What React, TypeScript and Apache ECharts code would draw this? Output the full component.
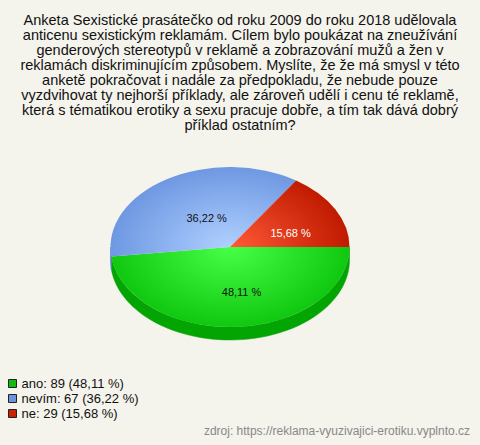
import React, { useEffect, useRef } from "react";
import * as echarts from "echarts";

const titleLines = [
  "Anketa Sexistické prasátečko od roku 2009 do roku 2018 udělovala",
  "anticenu sexistickým reklamám. Cílem bylo poukázat na zneužívání",
  "genderových stereotypů v reklamě a zobrazování mužů a žen v",
  "reklamách diskriminujícím způsobem. Myslíte, že že má smysl v této",
  "anketě pokračovat i nadále za předpokladu, že nebude pouze",
  "vyzdvihovat ty nejhorší příklady, ale zároveň udělí i cenu té reklamě,",
  "která s tématikou erotiky a sexu pracuje dobře, a tím tak dává dobrý",
  "příklad ostatním?",
];
const categories = ["ano", "nevím", "ne"];
const counts = [89, 67, 29];
const sourceText = "zdroj: https://reklama-vyuzivajici-erotiku.vyplnto.cz";

// styles
const legendColors = ["#11bb11", "#6d93dd", "#cc2200"];
const lightColors = ["#46ff46", "#b0d0ff", "#ff5a38"];
const edgeColors = ["#10c810", "#6e98e2", "#c01a00"];
const sideColors = ["#03a503", "#5a7fc4", "#a01800"];
const labelColors = ["#111111", "#111111", "#ffffff"];

const FONT = "'Liberation Sans', Arial, Helvetica, sans-serif";

const total = counts.reduce((a, b) => a + b, 0);
const pct = (v: number) => ((v / total) * 100).toFixed(2).replace(".", ",") + " %";

export default function App() {
  const ref = useRef<HTMLDivElement>(null);
  useEffect(() => {
    document.body.style.margin = "0";
    const chart = echarts.init(ref.current!, undefined, { renderer: "svg" });
    const cx = 230;
    const cy = 247;
    const rx = 119.5;
    const ry = 80;
    const depth = 13;

    const makeRender = (i: number) => (params: any, api: any) => {
      const before = counts.slice(0, i).reduce((a, b) => a + b, 0);
      const v = api.value(0);
      const a0 = (before / total) * Math.PI * 2;
      const a1 = ((before + v) / total) * Math.PI * 2;
      const children: any[] = [];
      // side (front half only)
      const s = Math.max(a0, 0);
      const e = Math.min(a1, Math.PI);
      if (e > s) {
        const pts: number[][] = [];
        const n = 60;
        for (let k = 0; k <= n; k++) {
          const t = s + ((e - s) * k) / n;
          pts.push([cx + rx * Math.cos(t), cy + ry * Math.sin(t)]);
        }
        for (let k = n; k >= 0; k--) {
          const t = s + ((e - s) * k) / n;
          pts.push([cx + rx * Math.cos(t), cy + ry * Math.sin(t) + depth]);
        }
        children.push({
          type: "polygon",
          shape: { points: pts },
          style: { fill: sideColors[i], stroke: sideColors[i], lineWidth: 0.5 },
        });
      }
      // top face
      children.push({
        type: "group",
        x: cx,
        y: cy,
        scaleY: ry / rx,
        children: [
          {
            type: "sector",
            shape: { cx: 0, cy: 0, r: rx, r0: 0, startAngle: a0, endAngle: a1, clockwise: true },
            style: {
              fill: new echarts.graphic.RadialGradient(
                0,
                0,
                rx,
                [
                  { offset: 0, color: lightColors[i] },
                  { offset: 1, color: edgeColors[i] },
                ],
                true
              ),
            },
          },
        ],
      });
      const m = (a0 + a1) / 2;
      children.push({
        type: "text",
        x: cx + rx * Math.cos(m) * 0.5 + 8,
        y: cy + ry * Math.sin(m) * 0.5 + 5,
        style: {
          text: pct(v),
          fill: labelColors[i],
          font: `11px ${FONT}`,
          align: "center",
          verticalAlign: "middle",
        },
      });
      return { type: "group", children };
    };

    chart.setOption({
      animation: false,
      backgroundColor: "#f4f3ec",
      color: legendColors,
      title: {
        text: titleLines.join("\n"),
        left: "center",
        top: 12,
        padding: 0,
        textStyle: {
          fontSize: 14.5,
          lineHeight: 15,
          fontWeight: "normal",
          color: "#111",
          fontFamily: FONT,
        },
      },
      legend: {
        orient: "vertical",
        left: 8,
        top: 377,
        padding: 0,
        itemWidth: 8,
        itemHeight: 8,
        itemGap: 2,
        icon: "rect",
        itemStyle: { borderColor: "#222", borderWidth: 1 },
        textStyle: { fontSize: 13, lineHeight: 13, color: "#111", fontFamily: FONT },
        formatter: (name: string) => {
          const i = categories.indexOf(name);
          return `${name}: ${counts[i]} (${pct(counts[i])})`;
        },
        selectedMode: false,
        data: categories,
      },
      graphic: [
        {
          type: "text",
          right: 10,
          top: 425,
          style: { text: sourceText, fill: "#888", font: `12px ${FONT}` },
        },
      ],
      series: categories.map((name, i) => ({
        type: "custom",
        name,
        coordinateSystem: "none",
        renderItem: makeRender(i),
        data: [[counts[i]]],
        silent: true,
      })),
    });
    return () => chart.dispose();
  }, []);
  return <div ref={ref} style={{ width: 480, height: 445 }} />;
}
